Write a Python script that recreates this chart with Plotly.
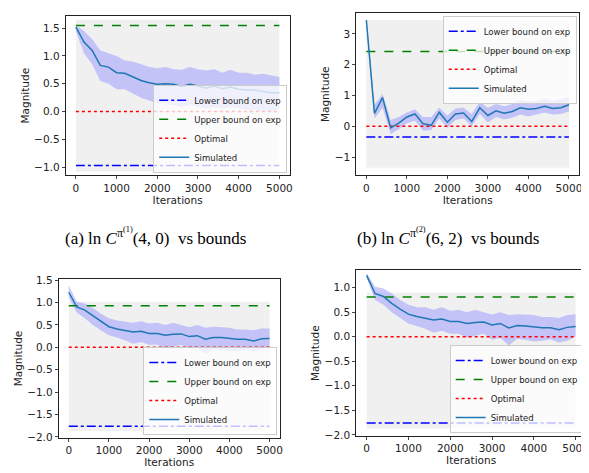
import plotly.graph_objects as go

W, H = 589, 473
iters = list(range(0, 5001, 200))

# smoothed "Simulated" curves, read every 200 iterations
sim_a = [1.52, 1.25, 1.10, 0.83, 0.80, 0.70, 0.69, 0.62, 0.56, 0.52, 0.49, 0.50, 0.49,
         0.45, 0.49, 0.46, 0.42, 0.46, 0.41, 0.44, 0.40, 0.39, 0.39, 0.36, 0.34, 0.34]
sim_b = [3.45, 0.42, 0.93, -0.05, 0.10, 0.30, 0.40, 0.08, 0.03, 0.45, 0.13, 0.40, 0.43,
         0.15, 0.60, 0.35, 0.50, 0.42, 0.48, 0.60, 0.55, 0.58, 0.65, 0.58, 0.60, 0.70]
sim_c = [1.23, 0.90, 0.83, 0.70, 0.58, 0.46, 0.41, 0.38, 0.34, 0.36, 0.31, 0.31, 0.27,
         0.29, 0.30, 0.24, 0.26, 0.18, 0.22, 0.22, 0.20, 0.18, 0.18, 0.14, 0.19, 0.20]
sim_d = [1.25, 0.88, 0.82, 0.68, 0.56, 0.46, 0.41, 0.38, 0.34, 0.36, 0.31, 0.31, 0.27,
         0.29, 0.30, 0.24, 0.27, 0.18, 0.23, 0.22, 0.20, 0.18, 0.18, 0.14, 0.19, 0.21]

# raw-sample envelopes (light band)
hi_a = [1.55, 1.45, 1.30, 1.10, 1.05, 1.00, 0.92, 0.90, 0.85, 0.80, 0.78, 0.80, 0.76,
        0.75, 0.80, 0.76, 0.74, 0.76, 0.70, 0.75, 0.70, 0.70, 0.66, 0.68, 0.65, 0.62]
lo_a = [1.45, 1.05, 0.85, 0.55, 0.50, 0.40, 0.40, 0.33, 0.25, 0.20, 0.15, 0.15, 0.12,
        0.08, 0.12, 0.08, 0.05, 0.08, 0.05, 0.08, 0.05, 0.03, 0.02, 0.00, 0.00, 0.05]
hi_b = [3.50, 0.70, 1.05, 0.20, 0.30, 0.45, 0.55, 0.30, 0.30, 0.60, 0.35, 0.58, 0.60,
        0.40, 0.80, 0.60, 0.72, 0.65, 0.72, 0.85, 0.80, 0.82, 0.90, 0.82, 0.88, 0.95]
lo_b = [3.30, 0.25, 0.60, -0.25, -0.10, 0.10, 0.18, -0.15, -0.12, 0.25, -0.05, 0.20, 0.25,
        0.00, 0.40, 0.12, 0.30, 0.22, 0.28, 0.38, 0.32, 0.38, 0.45, 0.38, 0.40, 0.48]
hi_c = [1.38, 1.02, 0.98, 0.88, 0.75, 0.65, 0.60, 0.58, 0.55, 0.58, 0.53, 0.55, 0.50,
        0.55, 0.50, 0.45, 0.50, 0.44, 0.46, 0.45, 0.44, 0.40, 0.40, 0.38, 0.42, 0.42]
lo_c = [1.10, 0.78, 0.65, 0.50, 0.38, 0.27, 0.22, 0.16, 0.08, 0.12, 0.06, 0.06, -0.02,
        0.02, 0.06, -0.04, -0.02, -0.15, -0.04, -0.06, -0.08, -0.08, -0.05, -0.10, -0.05, 0.00]
hi_d = [1.30, 1.02, 0.98, 0.88, 0.75, 0.65, 0.60, 0.60, 0.55, 0.60, 0.53, 0.55, 0.50,
        0.55, 0.50, 0.45, 0.50, 0.44, 0.46, 0.45, 0.44, 0.40, 0.40, 0.38, 0.44, 0.46]
lo_d = [1.20, 0.75, 0.65, 0.50, 0.38, 0.27, 0.22, 0.16, 0.08, 0.12, 0.06, 0.06, -0.02,
        0.02, 0.06, -0.06, -0.02, -0.18, -0.04, -0.06, -0.10, -0.08, -0.05, -0.12, -0.08, 0.00]

lower = [-0.97, -0.35, -1.76, -1.76]
upper = [1.55, 2.43, 0.93, 0.81]
optimal = [0.0, 0.0, 0.0, 0.0]
captions = ["(a) ln <i>C</i><sup>π<sup>(1)</sup></sup>(4, 0)  vs bounds",
            "(b) ln <i>C</i><sup>π<sup>(2)</sup></sup>(6, 2)  vs bounds"]

panels = [
    dict(sim=sim_a, hi=hi_a, lo=lo_a, box=(58, 283, 3, 166), yr=(-1.15, 1.72),
         gray=(-1.08, 1.65), ticks=[-1.0, -0.5, 0.0, 0.5, 1.0, 1.5], leg="bottom"),
    dict(sim=sim_b, hi=hi_b, lo=lo_b, box=(350, 574, 0, 166), yr=(-1.6, 3.68),
         gray=(-1.35, 3.45), ticks=[-1, 0, 1, 2, 3], leg="top"),
    dict(sim=sim_c, hi=hi_c, lo=lo_c, box=(51, 273, 272, 434), yr=(-2.02, 1.52),
         gray=(-1.87, 1.02), ticks=[-2.0, -1.5, -1.0, -0.5, 0.0, 0.5, 1.0, 1.5], leg="bottom"),
    dict(sim=sim_d, hi=hi_d, lo=lo_d, box=(350, 581, 263, 432), yr=(-2.02, 1.35),
         gray=(-1.87, 0.90), ticks=[-2.0, -1.5, -1.0, -0.5, 0.0, 0.5, 1.0], leg="bottom"),
]

fig = go.Figure()
font = dict(family="DejaVu Sans", size=10.5, color="#222")
for i, p in enumerate(panels):
    n = "" if i == 0 else str(i + 1)
    xa, ya, lg = "x" + n, "y" + n, "legend" + n
    x0, x1, y0, y1 = p["box"]
    fig.add_trace(go.Scatter(x=iters, y=p["hi"], mode="lines", line=dict(width=0),
                             showlegend=False, xaxis=xa, yaxis=ya, hoverinfo="skip"))
    fig.add_trace(go.Scatter(x=iters, y=p["lo"], mode="lines", line=dict(width=0),
                             fill="tonexty", fillcolor="rgba(150,150,255,0.5)",
                             showlegend=False, xaxis=xa, yaxis=ya, hoverinfo="skip"))
    fig.add_trace(go.Scatter(x=[0, 5000], y=[lower[i]] * 2, mode="lines", name="Lower bound on exp",
                             line=dict(color="blue", dash="dashdot", width=1.5), xaxis=xa, yaxis=ya, legend=lg))
    fig.add_trace(go.Scatter(x=[0, 5000], y=[upper[i]] * 2, mode="lines", name="Upper bound on exp",
                             line=dict(color="green", dash="dash", width=1.5), xaxis=xa, yaxis=ya, legend=lg))
    fig.add_trace(go.Scatter(x=[0, 5000], y=[optimal[i]] * 2, mode="lines", name="Optimal",
                             line=dict(color="red", dash="dot", width=1.5), xaxis=xa, yaxis=ya, legend=lg))
    fig.add_trace(go.Scatter(x=iters, y=p["sim"], mode="lines", name="Simulated",
                             line=dict(color="#1f77b4", width=1.5), xaxis=xa, yaxis=ya, legend=lg))
    fig.add_shape(type="rect", xref=xa, yref=ya, x0=0, x1=5000, y0=p["gray"][0], y1=p["gray"][1],
                  fillcolor="#f0f0f0", line=dict(width=0), layer="below")
    axcommon = dict(showgrid=False, zeroline=False, showline=True, mirror=True, linecolor="#222",
                    ticks="outside", ticklen=3, tickfont=font, title_font=font, title_standoff=2)
    fig.layout["xaxis" + n] = dict(domain=[x0 / W, x1 / W], range=[-250, 5250], anchor=ya,
                                   tickvals=[0, 1000, 2000, 3000, 4000, 5000],
                                   title_text="Iterations", **axcommon)
    fig.layout["yaxis" + n] = dict(domain=[1 - y1 / H, 1 - y0 / H], range=list(p["yr"]), anchor=xa,
                                   tickvals=p["ticks"], tickformat=".1f" if i != 1 else "d",
                                   title_text="Magnitude", **axcommon)
    bottom = p["leg"] == "bottom"
    fig.layout[lg] = dict(x=x1 / W - 0.004, y=(1 - y1 / H + 0.006) if bottom else (1 - y0 / H - 0.006),
                          xanchor="right", yanchor="bottom" if bottom else "top",
                          xref="paper", yref="paper", traceorder="normal",
                          bgcolor="rgba(255,255,255,0.75)", bordercolor="#ccc", borderwidth=1,
                          font=dict(family="DejaVu Sans", size=8.5, color="#222"),
                          tracegroupgap=0, itemwidth=30)

for cx, txt in zip([148, 442], captions):
    fig.add_annotation(text=txt, x=cx / W, y=1 - 228 / H, xref="paper", yref="paper",
                       xanchor="center", yanchor="middle", showarrow=False,
                       font=dict(family="Liberation Serif", size=17, color="black"))

fig.update_layout(width=W, height=H, margin=dict(l=0, r=0, t=0, b=0),
                  paper_bgcolor="white", plot_bgcolor="white")
fig.write_html("out.html")
